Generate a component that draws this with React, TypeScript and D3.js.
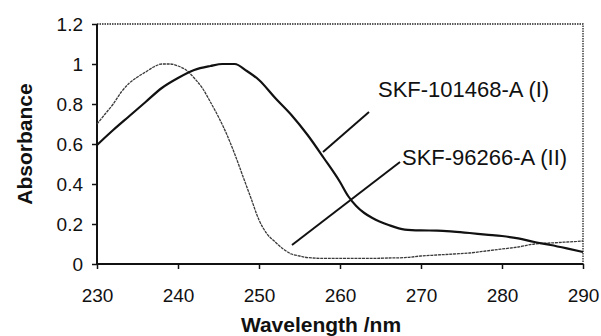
import { useRef, useEffect } from "react";
import * as d3 from "d3";

// series I (solid black): SKF-101468-A
const wlI = [230, 232, 234, 236, 238, 240, 242, 244, 245.5, 247, 248.5, 250, 252, 254, 256, 258, 260, 261, 262, 263, 264, 266, 268, 270, 272, 274, 276, 278, 280, 282, 284, 286, 288, 290];
const absI = [0.595, 0.67, 0.74, 0.81, 0.88, 0.93, 0.97, 0.99, 1.0, 1.0, 0.965, 0.92, 0.83, 0.745, 0.645, 0.53, 0.41, 0.34, 0.29, 0.255, 0.23, 0.195, 0.172, 0.168, 0.167, 0.162, 0.155, 0.147, 0.14, 0.128, 0.11, 0.095, 0.078, 0.06];

// series II (grey, thin): SKF-96266-A
const wlII = [230, 231, 232, 233, 234, 235, 236, 237, 238, 239, 240, 241, 242, 243, 244, 245, 246, 247, 248, 249, 250, 251, 252, 253, 254, 255, 256, 258, 260, 262, 264, 266, 268, 270, 272, 274, 276, 278, 280, 282, 284, 286, 288, 290];
const absII = [0.7, 0.75, 0.8, 0.86, 0.905, 0.935, 0.96, 0.985, 1.0, 1.0, 0.99, 0.97, 0.93, 0.88, 0.81, 0.735, 0.65, 0.55, 0.44, 0.33, 0.22, 0.15, 0.11, 0.075, 0.05, 0.04, 0.032, 0.028, 0.028, 0.028, 0.028, 0.03, 0.032, 0.04, 0.045, 0.05, 0.055, 0.065, 0.075, 0.085, 0.1, 0.105, 0.11, 0.115];

const xTicks = [230, 240, 250, 260, 270, 280, 290];
const yTicks = [0, 0.2, 0.4, 0.6, 0.8, 1, 1.2];

const labelI = "SKF-101468-A (I)";
const labelII = "SKF-96266-A (II)";

function SpectrumChart() {
  const svgRef = useRef<SVGSVGElement>(null);

  useEffect(() => {
    const width = 601;
    const height = 336;
    const left = 97, right = 583, top = 24, bottom = 264;

    const x = d3.scaleLinear().domain([230, 290]).range([left, right]);
    const y = d3.scaleLinear().domain([0, 1.2]).range([bottom, top]);

    const svg = d3.select(svgRef.current);
    svg.selectAll("*").remove();
    svg.attr("width", width).attr("height", height);

    const font = "Liberation Sans, Arial, sans-serif";

    // dotted frame top and right
    svg.append("path")
      .attr("d", `M${left},${top}H${right}V${bottom}`)
      .attr("fill", "none")
      .attr("stroke", "#222")
      .attr("stroke-width", 1.3)
      .attr("stroke-dasharray", "1.5 1");

    // axes
    const xAxis = svg.append("g")
      .attr("transform", `translate(0,${bottom})`)
      .call(d3.axisBottom(x).tickValues(xTicks).tickSize(5).tickPadding(20).tickFormat(d3.format("d")));
    const yAxis = svg.append("g")
      .attr("transform", `translate(${left},0)`)
      .call(d3.axisLeft(y).tickValues(yTicks).tickSize(5).tickPadding(9).tickFormat((d) => String(d)));

    [xAxis, yAxis].forEach((g) => {
      g.select(".domain").attr("stroke", "#111").attr("stroke-width", 2);
      g.selectAll(".tick line").attr("stroke", "#111").attr("stroke-width", 1.5);
      g.selectAll(".tick text")
        .attr("fill", "#111")
        .style("font-family", font)
        .style("font-size", "19px");
    });
    xAxis.select(".domain").attr("d", `M${left},0H${right}`);
    yAxis.select(".domain").attr("d", `M0,${top}V${bottom}`);

    // series II
    svg.append("path")
      .datum(absII)
      .attr("d", d3.line<number>().x((_, i) => x(wlII[i])).y((d) => y(d)).curve(d3.curveMonotoneX))
      .attr("fill", "none")
      .attr("stroke", "#3a3a3a")
      .attr("stroke-width", 1.3)
      .attr("stroke-dasharray", "3 0.8");

    // series I
    svg.append("path")
      .datum(absI)
      .attr("d", d3.line<number>().x((_, i) => x(wlI[i])).y((d) => y(d)).curve(d3.curveMonotoneX))
      .attr("fill", "none")
      .attr("stroke", "#111")
      .attr("stroke-width", 2.2);

    // leader lines
    const leaders = [
      { x1: 323, y1: 152, x2: 369, y2: 112 },
      { x1: 292, y1: 245, x2: 400, y2: 162 },
    ];
    svg.selectAll(".leader")
      .data(leaders)
      .join("line")
      .attr("class", "leader")
      .attr("x1", (d) => d.x1)
      .attr("y1", (d) => d.y1)
      .attr("x2", (d) => d.x2)
      .attr("y2", (d) => d.y2)
      .attr("stroke", "#111")
      .attr("stroke-width", 2);

    const labels = [
      { text: labelI, x: 378, y: 97 },
      { text: labelII, x: 402, y: 165 },
    ];
    svg.selectAll(".serieslabel")
      .data(labels)
      .join("text")
      .attr("class", "serieslabel")
      .attr("x", (d) => d.x)
      .attr("y", (d) => d.y)
      .attr("fill", "#111")
      .style("font-family", font)
      .style("font-size", "22px")
      .text((d) => d.text);

    // axis titles
    svg.append("text")
      .attr("x", 321)
      .attr("y", 332)
      .attr("text-anchor", "middle")
      .attr("fill", "#111")
      .style("font-family", font)
      .style("font-size", "21px")
      .style("font-weight", "bold")
      .text("Wavelength /nm");

    svg.append("text")
      .attr("transform", `translate(32,${(top + bottom) / 2}) rotate(-90)`)
      .attr("text-anchor", "middle")
      .attr("fill", "#111")
      .style("font-family", font)
      .style("font-size", "21px")
      .style("font-weight", "bold")
      .text("Absorbance");
  }, []);

  return <svg ref={svgRef} style={{ position: "absolute", left: 0, top: 0, background: "#fff" }} />;
}

export default function App() {
  return (
    <div>
      <SpectrumChart />
    </div>
  );
}
